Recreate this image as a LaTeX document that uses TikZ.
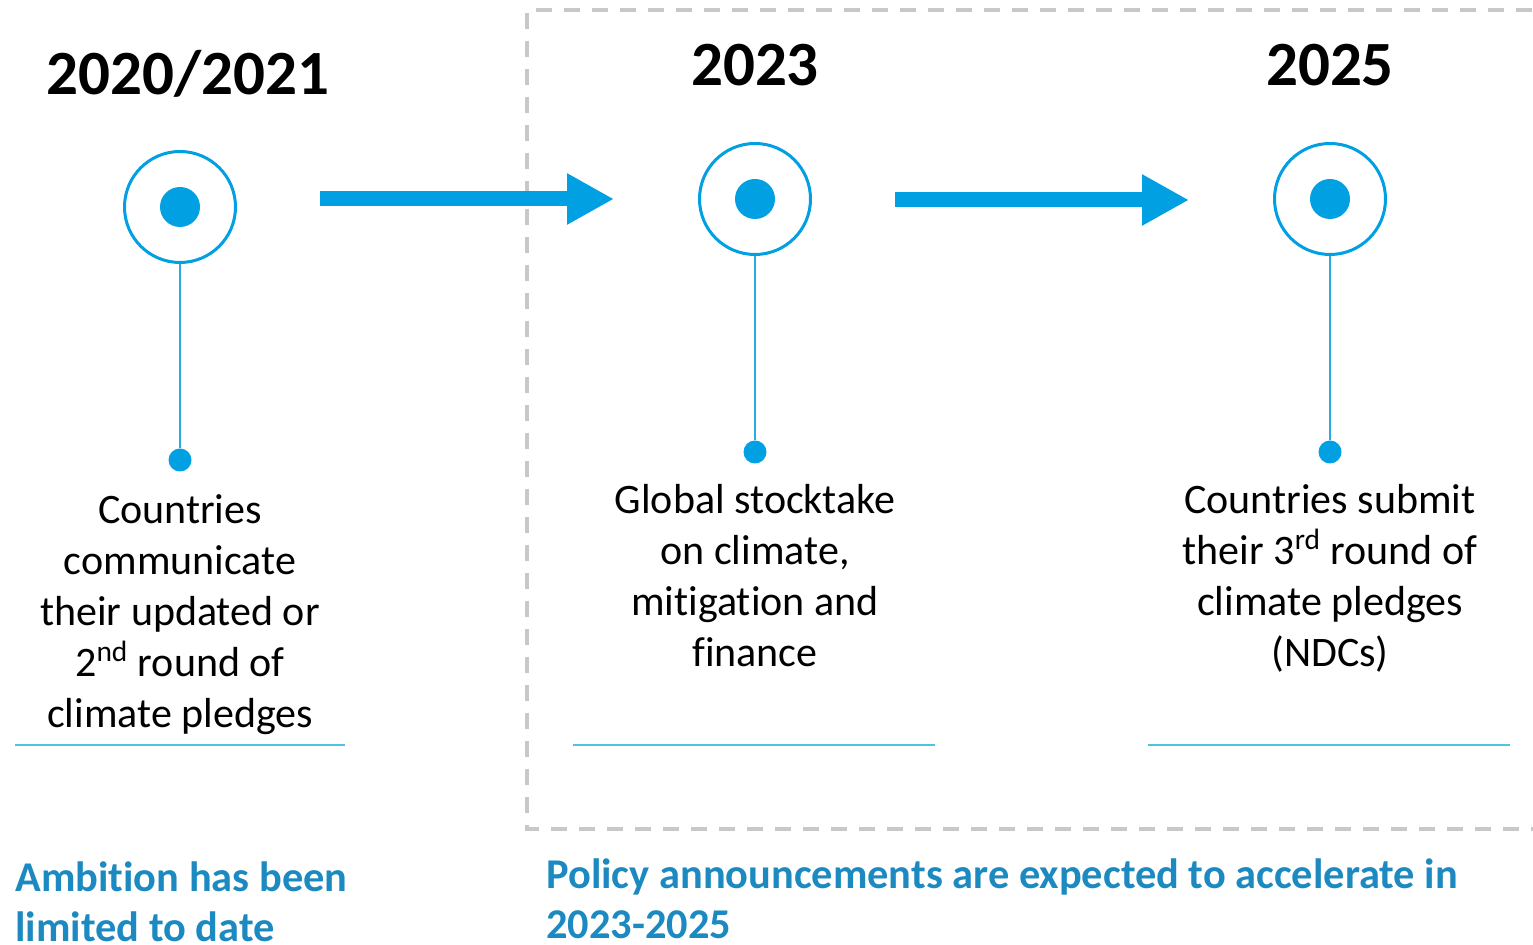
\documentclass[tikz,border=0pt]{standalone}
\usepackage{fontspec}
\setmainfont{Carlito}[Ligatures=CommonOff]
\usepackage{tikz}
\usetikzlibrary{arrows.meta}

\definecolor{tlblue}{RGB}{0,160,227}
\definecolor{stemblue}{RGB}{40,170,226}
\definecolor{rulecyan}{RGB}{80,195,225}
\definecolor{capblue}{RGB}{28,138,192}
\definecolor{boxgray}{RGB}{200,200,200}

\begin{document}
\begin{tikzpicture}[
			x=0.5pt, y=-0.5pt,
			ring/.style={circle, draw=tlblue, line width=1.5pt, fill=white, minimum size=55.5pt, inner sep=0pt},
			hub/.style={circle, fill=tlblue, minimum size=20pt, inner sep=0pt},
			enddot/.style={circle, fill=tlblue, minimum size=11.5pt, inner sep=0pt},
			stem/.style={draw=stemblue, line width=0.75pt},
			year/.style={anchor=base, font=\fontsize{31.5}{36}\selectfont\bfseries},
			note/.style={anchor=north, align=center, inner sep=0pt, font=\fontsize{21}{25.5}\selectfont},
			takeaway/.style={anchor=north west, align=left, inner sep=0pt, text=capblue, font=\fontsize{21.2}{25}\selectfont\bfseries},
			flow/.style={draw=tlblue, line width=7.5pt, -{Triangle[length=23.5pt, width=24pt]}}
			]
			
			\useasboundingbox (0,0) rectangle (1533,945);
			
			% Dashed frame round the coming years
			\draw[boxgray, line width=1.75pt, dash pattern=on 8pt off 6pt] (1560,10) -- (527,10) -- (527,829) -- (1560,829);
			
			% Years
			\node[year] (y1) at (188,95) {2020/2021};
			\node[year] (y2) at (755,86) {2023};
			\node[year] (y3) at (1330,86) {2025};
			
			% Milestones
			\node[ring] (ms1) at (180,207) {};
			\node[hub] at (ms1) {};
			\node[ring] (ms2) at (755,199) {};
			\node[hub] at (ms2) {};
			\node[ring] (ms3) at (1330,199) {};
			\node[hub] at (ms3) {};
			
			% Stems down to the notes
			\node[enddot] (d1) at (180,460) {};
			\node[enddot] (d2) at (755,452) {};
			\node[enddot] (d3) at (1330,452) {};
			\draw[stem] (ms1) -- (d1);
			\draw[stem] (ms2) -- (d2);
			\draw[stem] (ms3) -- (d3);
			
			% Arrows between milestones
			\coordinate (a1s) at (320,199);
			\coordinate (a1e) at (614,199);
			\coordinate (a2s) at (895,200);
			\coordinate (a2e) at (1189,200);
			\draw[flow] (a1s) -- (a1e);
			\draw[flow] (a2s) -- (a2e);
			
			% Notes
			\node[note] (n1) at (180,494) {Countries\\communicate\\their updated or\\2\textsuperscript{nd} round of\\climate pledges};
			\node[note] (n2) at (755,484) {Global stocktake\\on climate,\\mitigation and\\finance};
			\node[note] (n3) at (1330,484) {Countries submit\\their 3\textsuperscript{rd} round of\\climate pledges\\(NDCs)};
			
			% Rules under the notes
			\coordinate (r1a) at (15,745);
			\coordinate (r1b) at (345,745);
			\coordinate (r2a) at (573,745);
			\coordinate (r2b) at (935,745);
			\coordinate (r3a) at (1148,745);
			\coordinate (r3b) at (1510,745);
			\draw[rulecyan, line width=0.75pt] (r1a) -- (r1b);
			\draw[rulecyan, line width=0.75pt] (r2a) -- (r2b);
			\draw[rulecyan, line width=0.75pt] (r3a) -- (r3b);
			
			% Takeaways
			\node[takeaway] (t1) at (15,861) {Ambition has been\\limited to date};
			\node[takeaway] (t2) at (546,858) {Policy announcements are expected to accelerate in\\2023-2025};
			
		\end{tikzpicture}
\end{document}
